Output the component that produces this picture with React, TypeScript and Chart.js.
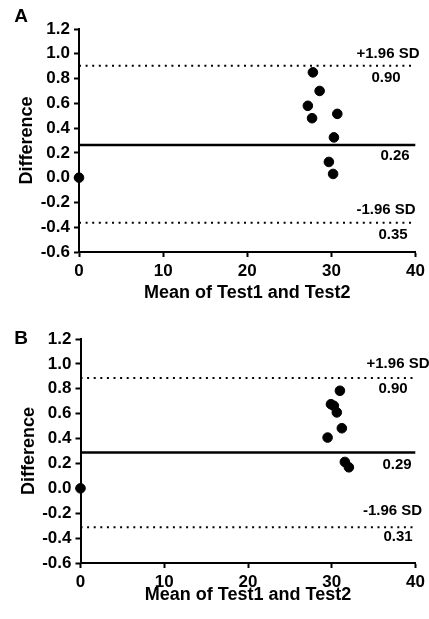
import React, { useEffect, useRef } from "react";
import { Chart, registerables } from "chart.js";

Chart.register(...registerables);

// ---------- data ----------
const xTickValues = [0, 10, 20, 30, 40];
const yTickValues = [-0.6, -0.4, -0.2, 0.0, 0.2, 0.4, 0.6, 0.8, 1.0, 1.2];

const meanA = [0, 27.8, 28.6, 27.2, 27.7, 30.7, 30.3, 29.7, 30.2];
const diffA = [0, 0.85, 0.7, 0.58, 0.48, 0.515, 0.325, 0.127, 0.03];
const limitsA = [0.903, 0.264, -0.364]; // +1.96 SD, bias, -1.96 SD
const limitTextA = ["+1.96 SD", "0.90", "0.26", "-1.96 SD", "0.35"];

const meanB = [0, 30.97, 29.9, 30.25, 30.6, 31.2, 29.5, 31.56, 32.04];
const diffB = [0, 0.784, 0.676, 0.663, 0.61, 0.483, 0.408, 0.212, 0.169];
const limitsB = [0.886, 0.288, -0.313];
const limitTextB = ["+1.96 SD", "0.90", "0.29", "-1.96 SD", "0.31"];

const xTitle = "Mean of Test1 and Test2";
const yTitle = "Difference";

const FONT = '"Liberation Sans", Arial, Helvetica, sans-serif';

type Panel = {
  letter: string;
  means: number[];
  diffs: number[];
  limits: number[];
  texts: string[];
  height: number;
  padTop: number;
  yWidth: number;
  xHeight: number;
  xTitlePadBottom: number;
  yTitlePadTop: number;
  letterY: number;
  labelLayout: [number, number, number][];
};

const panels: Panel[] = [
  {
    letter: "A",
    means: meanA,
    diffs: diffA,
    limits: limitsA,
    texts: limitTextA,
    height: 308,
    padTop: 29,
    yWidth: 79,
    xHeight: 56,
    xTitlePadBottom: 3.7,
    yTitlePadTop: 16.5,
    letterY: 17,
    labelLayout: [
      [0, -12, 388],
      [0, 12, 386],
      [1, 11, 395],
      [2, -13, 386],
      [2, 12.5, 393],
    ],
  },
  {
    letter: "B",
    means: meanB,
    diffs: diffB,
    limits: limitsB,
    texts: limitTextB,
    height: 311,
    padTop: 31,
    yWidth: 80.5,
    xHeight: 56,
    xTitlePadBottom: 12.7,
    yTitlePadTop: 18.2,
    letterY: 31,
    labelLayout: [
      [0, -14, 398],
      [0, 11, 393],
      [1, 12, 397],
      [2, -16, 392.5],
      [2, 10, 398],
    ],
  },
];

function buildChart(canvas: HTMLCanvasElement, p: Panel) {
  const pts = p.means.map((m, i) => ({ x: m, y: p.diffs[i] }));
  const xMin = xTickValues[0];
  const xMax = xTickValues[xTickValues.length - 1];
  const lineData = (v: number) => [
    { x: xMin, y: v },
    { x: xMax, y: v },
  ];

  const labelPlugin = {
    id: "baLabels" + p.letter,
    afterDatasetsDraw(chart: any) {
      const ctx = chart.ctx;
      const ys = chart.scales.y;
      ctx.save();
      ctx.fillStyle = "#000";
      ctx.font = `bold 15px ${FONT}`;
      ctx.textAlign = "center";
      ctx.textBaseline = "middle";
      p.texts.forEach((t, i) => {
        const [li, dy, cx] = p.labelLayout[i];
        const py = ys.getPixelForValue(p.limits[li]);
        ctx.fillText(t, cx, py + dy);
      });
      ctx.font = `bold 19px ${FONT}`;
      ctx.fillText(p.letter, 21, p.letterY);
      ctx.restore();
    },
  };

  const axisCommon = {
    border: { display: true, color: "#000", width: 2 },
    grid: {
      drawOnChartArea: false,
      drawTicks: true,
      tickLength: 5,
      tickColor: "#000",
      tickWidth: 2,
    },
  };

  return new Chart(canvas, {
    type: "scatter",
    data: {
      datasets: [
        {
          data: pts,
          backgroundColor: "#000",
          borderColor: "#000",
          pointRadius: 4.8,
          pointHoverRadius: 4.8,
          clip: false,
        } as any,
        {
          data: lineData(p.limits[1]),
          showLine: true,
          borderColor: "#000",
          borderWidth: 2.5,
          pointRadius: 0,
        } as any,
        {
          data: lineData(p.limits[0]),
          showLine: true,
          borderColor: "#000",
          borderWidth: 2,
          borderDash: [2, 4.6],
          pointRadius: 0,
        } as any,
        {
          data: lineData(p.limits[2]),
          showLine: true,
          borderColor: "#000",
          borderWidth: 2,
          borderDash: [2, 4.6],
          pointRadius: 0,
        } as any,
      ],
    },
    options: {
      responsive: false,
      animation: false,
      events: [],
      layout: { padding: { top: p.padTop, right: 13, left: 0, bottom: 0 } },
      plugins: {
        legend: { display: false },
        tooltip: { enabled: false },
        title: { display: false },
      },
      scales: {
        x: {
          type: "linear",
          min: xMin,
          max: xMax,
          ...axisCommon,
          afterBuildTicks: (s: any) => {
            s.ticks = xTickValues.map((v) => ({ value: v }));
          },
          afterFit: (s: any) => {
            s.height = p.xHeight;
          },
          ticks: {
            color: "#000",
            padding: 4,
            font: { family: FONT, size: 17, weight: "bold" },
          },
          title: {
            display: true,
            text: xTitle,
            color: "#000",
            padding: { top: 0, bottom: p.xTitlePadBottom },
            font: { family: FONT, size: 18, weight: "bold" },
          },
        },
        y: {
          type: "linear",
          min: yTickValues[0],
          max: yTickValues[yTickValues.length - 1],
          ...axisCommon,
          afterBuildTicks: (s: any) => {
            s.ticks = yTickValues.map((v) => ({ value: v }));
          },
          afterFit: (s: any) => {
            s.width = p.yWidth;
          },
          ticks: {
            color: "#000",
            padding: 4,
            font: { family: FONT, size: 17, weight: "bold" },
            callback: (v: any) => Number(v).toFixed(1),
          },
          title: {
            display: true,
            text: yTitle,
            color: "#000",
            padding: { top: p.yTitlePadTop, bottom: 0 },
            font: { family: FONT, size: 18, weight: "bold" },
          },
        },
      },
    } as any,
    plugins: [labelPlugin],
  });
}

function PanelChart({ p, top }: { p: Panel; top: number }) {
  const ref = useRef<HTMLCanvasElement | null>(null);
  useEffect(() => {
    if (!ref.current) return;
    const c = buildChart(ref.current, p);
    return () => c.destroy();
  }, [p]);
  return (
    <canvas
      ref={ref}
      width={429}
      height={p.height}
      style={{ position: "absolute", left: 0, top, width: 429, height: p.height, display: "block" }}
    />
  );
}

export default function App() {
  return (
    <div
      style={{
        position: "absolute",
        left: 0,
        top: 0,
        width: 429,
        height: 619,
        background: "#fff",
        overflow: "hidden",
      }}
    >
      <PanelChart p={panels[0]} top={0} />
      <PanelChart p={panels[1]} top={308} />
    </div>
  );
}
